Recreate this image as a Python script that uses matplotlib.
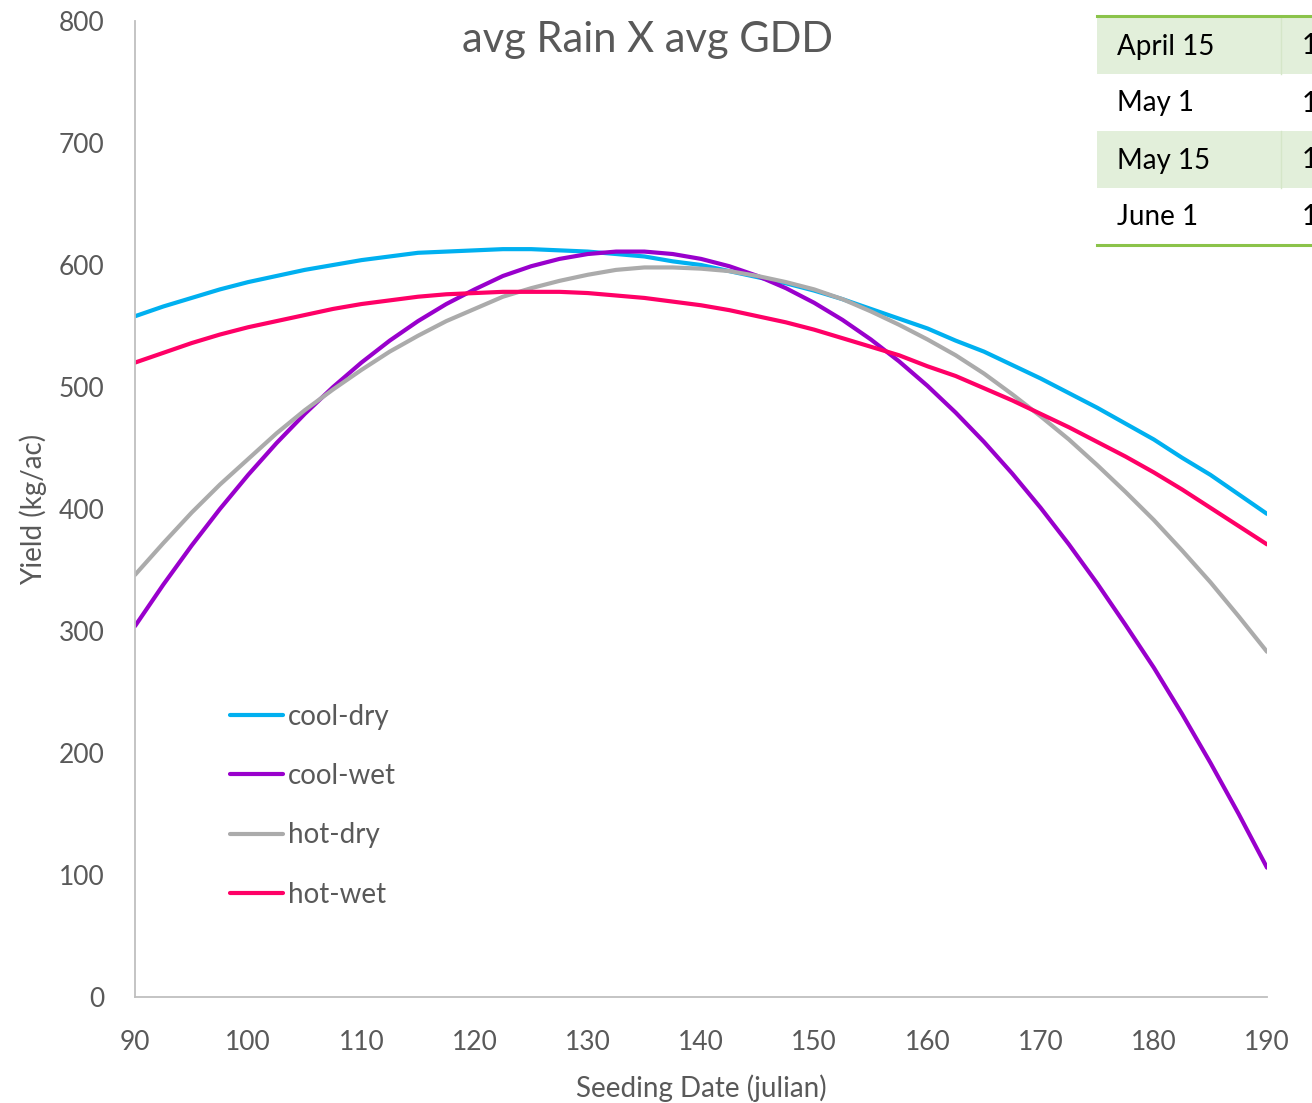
import numpy as np
from matplotlib import pyplot as plt
import matplotlib.patches as patches
from matplotlib.lines import Line2D

plt.rcParams['font.family'] = ['Lato', 'DejaVu Sans']

# seeding day (julian), read every 2.5 days
days = list(np.arange(90, 190.1, 2.5))

cool_dry = [558, 566, 573, 580, 586, 591, 596, 600, 604, 607, 610, 611, 612, 613,
            613, 612, 611, 609, 607, 603, 600, 595, 590, 585, 579, 572, 564, 556,
            548, 538, 529, 518, 507, 495, 483, 470, 457, 442, 428, 412, 396]
cool_wet = [304, 338, 370, 400, 428, 454, 478, 500, 520, 538, 554, 568, 580, 591,
            599, 605, 609, 611, 611, 609, 605, 599, 591, 581, 569, 555, 539, 521,
            501, 479, 455, 429, 401, 371, 339, 305, 270, 232, 192, 150, 106]
hot_dry = [346, 372, 397, 420, 441, 462, 481, 498, 514, 529, 542, 554, 564, 574,
           581, 587, 592, 596, 598, 598, 597, 595, 591, 586, 580, 572, 562, 551,
           539, 526, 511, 494, 476, 457, 436, 414, 391, 366, 340, 312, 283]
hot_wet = [520, 528, 536, 543, 549, 554, 559, 564, 568, 571, 574, 576, 577, 578,
           578, 578, 577, 575, 573, 570, 567, 563, 558, 553, 547, 540, 533, 526,
           517, 509, 499, 489, 478, 467, 455, 443, 430, 416, 401, 386, 371]

series_names = ['cool-dry', 'cool-wet', 'hot-dry', 'hot-wet']
series_colors = ['#00B0F0', '#9900CC', '#ABABAB', '#FF0066']

table_rows = ['April 15', 'May 1', 'May 15', 'June 1']
table_col2 = ['1', '1', '1', '1']

TXT = '#595959'

fig = plt.figure(figsize=(13.12, 11.03), dpi=100)
ax = fig.add_axes([135/1312, 1 - 997/1103, 1132/1312, 976/1103])

for vals, name, col in zip([cool_dry, cool_wet, hot_dry, hot_wet], series_names, series_colors):
    ax.plot(days, vals, color=col, lw=3.0, label=name, solid_capstyle='round')

ax.set_xlim(90, 190)
ax.set_ylim(0, 800)
ax.set_xticks(range(90, 191, 10))
ax.set_yticks(range(0, 801, 100))
ax.tick_params(length=0, labelsize=19, labelcolor=TXT)
ax.tick_params(axis='x', pad=24)
ax.tick_params(axis='y', pad=22)

ax.spines['top'].set_visible(False)
ax.spines['right'].set_visible(False)
ax.spines['left'].set_color('#BFBFBF')
ax.spines['bottom'].set_color('#BFBFBF')
ax.spines['left'].set_linewidth(1.3)
ax.spines['bottom'].set_linewidth(1.3)

ax.set_xlabel('Seeding Date (julian)', fontsize=20, color=TXT, labelpad=14)
ax.set_ylabel('Yield (kg/ac)', fontsize=20, color=TXT, labelpad=8)

fig.text(648/1312, 1 - 40/1103, 'avg Rain X avg GDD', fontsize=30, color=TXT,
         ha='center', va='center')

leg = ax.legend(loc='upper left', bbox_to_anchor=(0.062, 0.326), frameon=False,
                fontsize=20, handlelength=1.9, handletextpad=0.18, labelspacing=1.2)
for t in leg.get_texts():
    t.set_color(TXT)

# table in the top right corner (cut by the figure edge)
row_top = [17, 74, 131, 188]
row_h = 57
for i, (lab, c2) in enumerate(zip(table_rows, table_col2)):
    y0 = 1 - (row_top[i] + row_h) / 1103
    if i % 2 == 0:
        fig.add_artist(patches.Rectangle((1097/1312, y0), 220/1312, row_h/1103,
                                         transform=fig.transFigure, facecolor='#E2EFDA',
                                         edgecolor='none'))
        fig.add_artist(Line2D([1281/1312, 1281/1312], [y0, y0 + row_h/1103],
                              transform=fig.transFigure, color='#D5E6C8', lw=1))
    yc = 1 - (row_top[i] + row_h/2 + 1) / 1103
    fig.text(1117/1312, yc, lab, fontsize=20, color='black', va='center')
    fig.text(1302/1312, yc, c2, fontsize=20, color='black', va='center')

for ypx in [16, 245]:
    fig.add_artist(Line2D([1097/1312, 1], [1 - ypx/1103, 1 - ypx/1103],
                          transform=fig.transFigure, color='#8BC34A', lw=2.2))

plt.savefig('out.png', dpi=100)
